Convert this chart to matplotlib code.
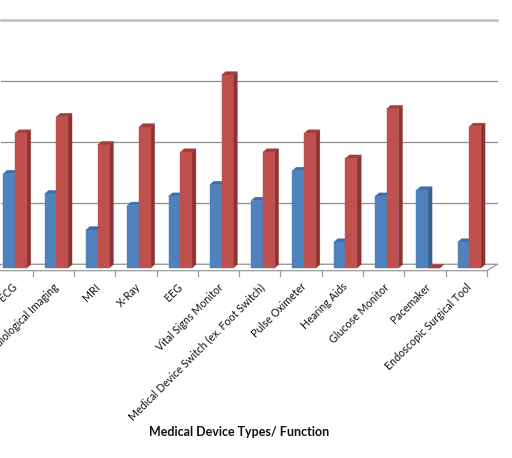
import matplotlib
matplotlib.use("Agg")
import matplotlib.pyplot as plt
from matplotlib.patches import Polygon
import numpy as np

categories = ["ECG", "Radiological Imaging", "MRI", "X-Ray", "EEG",
              "Vital Signs Monitor", "Medical Device Switch (ex. Foot Switch)",
              "Pulse Oximeter", "Hearing Aids", "Glucose Monitor", "Pacemaker",
              "Endoscopic Surgical Tool"]
series_blue = [15.4, 12.1, 6.2, 10.2, 11.7, 13.6, 11.0, 15.9, 4.2, 11.7, 12.7, 4.2]
series_red = [22.0, 24.7, 20.1, 23.0, 18.9, 31.5, 18.9, 22.0, 17.9, 26.0, 0.0, 23.1]
y_ticks = [0, 10, 20, 30, 40]
x_title = "Medical Device Types/ Function"

W, H = 512, 458
fig = plt.figure(figsize=(W / 100, H / 100), dpi=100)

# back wall plane
left_px, right_px = 1.35, 497.0
top_px, base_px = 19.5, 264.3
ax = fig.add_axes([left_px / W, 1 - base_px / H, (right_px - left_px) / W, (base_px - top_px) / H])
ax.set_xlim(-0.5, len(categories) - 0.5)
ax.set_ylim(y_ticks[0], y_ticks[-1])
for s in ax.spines.values():
    s.set_visible(False)
ax.set_xticks([])
ax.set_yticks([])
ax.patch.set_alpha(0)

# gridlines on back wall
for yv in y_ticks:
    if yv == y_ticks[-1]:
        ax.axhline(yv, color="#bdbdbd", lw=1.8, zorder=0, clip_on=False)
    else:
        ax.axhline(yv, color="#8f8f8f", lw=0.9, zorder=0, clip_on=False)

fig.canvas.draw()
to_disp = ax.transData.transform

def px(dx, dy):
    # pixel offset (image coords: dy down positive)
    return np.array([dx, -dy])

floor_off = px(-10, 6.4)       # front plane relative to back wall
bar_front_off = px(-7, 3.7)    # bar front faces relative to back wall
depth = px(4, -3.5)            # front -> back of bar

bw = 11.7 / 41.3
x = np.arange(len(categories))

def to_fig(pts):
    return fig.transFigure.inverted().transform(pts)

def draw_bar(xc, v, front, side, top, z):
    p0 = to_disp((xc - bw / 2, 0)) + bar_front_off
    p1 = to_disp((xc + bw / 2, 0)) + bar_front_off
    p2 = to_disp((xc + bw / 2, v)) + bar_front_off
    p3 = to_disp((xc - bw / 2, v)) + bar_front_off
    sidep = [p1, p1 + depth, p2 + depth, p2]
    topp = [p3, p2, p2 + depth, p3 + depth]
    frontp = [p0, p1, p2, p3]
    for pts, c in ((sidep, side), (topp, top), (frontp, front)):
        fig.patches.append(Polygon(to_fig(np.array(pts)), closed=True, facecolor=c,
                                   edgecolor=c, lw=0.3, transform=fig.transFigure,
                                   zorder=z))

# floor
fl_b0 = to_disp((-0.5, 0))
fl_b1 = to_disp((len(categories) - 0.5, 0))
floor_pts = np.array([fl_b0 + floor_off, fl_b1 + floor_off, fl_b1, fl_b0])
fig.patches.append(Polygon(to_fig(floor_pts), closed=True, facecolor="white",
                           edgecolor="#9a9a9a", lw=0.9, transform=fig.transFigure, zorder=1))
# tick marks on front edge
for k in range(len(categories) + 1):
    p = to_disp((k - 0.5, 0)) + floor_off
    q = p + px(0, 5.5)
    pf = to_fig(np.array([p, q]))
    fig.add_artist(plt.Line2D(pf[:, 0], pf[:, 1], color="#9a9a9a", lw=0.9, zorder=1))

for i in range(len(categories)):
    draw_bar(x[i] - bw / 2, series_blue[i], "#4f81bd", "#355f91", "#3f6fa8", 2 + i * 0.01)
    draw_bar(x[i] + bw / 2, series_red[i], "#c0504d", "#8b3331", "#a33d3a", 2.005 + i * 0.01)

# category labels
for i, lab in enumerate(categories):
    p = to_disp((x[i], 0)) + floor_off + px(-0.5, 10.5)
    pf = to_fig(np.array([p]))[0]
    fig.text(pf[0], pf[1], lab, rotation=45, ha="right", va="top",
             rotation_mode="anchor", fontsize=7.7, family="Lato", color="#111111")

fig.text(239 / W, 1 - 432 / H, x_title, ha="center", va="center",
         fontsize=9, fontweight="bold", family="Lato", color="#111111")

fig.savefig("out.png", dpi=100, facecolor="white")
